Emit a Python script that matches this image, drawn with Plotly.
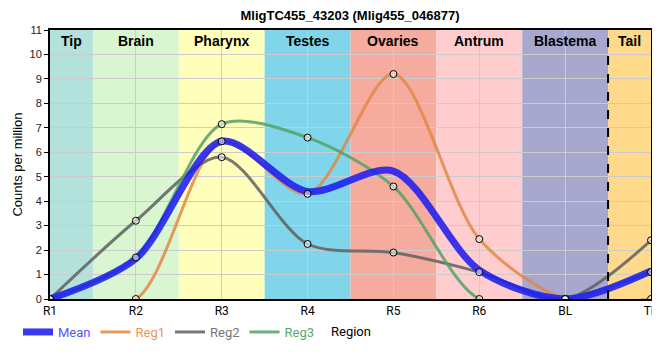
import plotly.graph_objects as go

categories = ["R1", "R2", "R3", "R4", "R5", "R6", "BL", "TP"]
regions = ["Tip", "Brain", "Pharynx", "Testes", "Ovaries", "Antrum", "Blastema", "Tail"]
region_colors = ["#b3e2dd", "#d9f6d0", "#ffffbb", "#80d5ea", "#f5ab9d", "#ffcdcd", "#a8a8cf", "#ffd98c"]

mean_vals = [0, 1.65, 6.45, 4.40, 5.23, 1.18, 0, 1.15]
reg1_vals = [0, 0, 6.45, 4.30, 9.20, 2.45, 0, 0]
reg2_vals = [0, 3.20, 5.80, 2.25, 1.90, 1.10, 0, 2.40]
reg3_vals = [0, 1.70, 7.15, 6.60, 4.60, 0, 0, 1.10]

title = "MligTC455_43203 (Mlig455_046877)"
x_title = "Region"
y_title = "Counts per million"

series = [
    ("Reg1", reg1_vals, "rgba(226,135,70,0.85)", "#e8955a"),
    ("Reg2", reg2_vals, "rgba(95,95,95,0.85)", "#777777"),
    ("Reg3", reg3_vals, "rgba(85,160,100,0.85)", "#5aa873"),
]

SMOOTH = 0.85
W, H = 660, 344  # page body adds an 8px margin; figure origin is at (8, 8) on screen

fig = go.Figure()

for name, vals, col, tcol in series:
    fig.add_trace(go.Scatter(
        x=categories, y=vals, mode="lines",
        line=dict(color=col, width=3, shape="spline", smoothing=SMOOTH),
        name=f'<span style="color:{tcol}">{name}</span>',
        legendrank=2, hoverinfo="skip",
    ))

fig.add_trace(go.Scatter(
    x=categories, y=mean_vals, mode="lines",
    line=dict(color="rgba(30,30,240,0.88)", width=7, shape="spline", smoothing=SMOOTH),
    name='<span style="color:#5555ff">Mean</span>', legendrank=1,
))

for name, vals, col, tcol in series:
    fig.add_trace(go.Scatter(
        x=categories, y=vals, mode="markers", showlegend=False,
        marker=dict(size=7, color="rgba(255,255,255,0.55)",
                    line=dict(color="black", width=1)),
    ))

shapes = []
n = len(categories)
for i, (reg, colr) in enumerate(zip(regions, region_colors)):
    x0 = max(i - 0.5, 0)
    x1 = min(i + 0.5, n - 1)
    shapes.append(dict(type="rect", xref="x", yref="paper", x0=x0, x1=x1, y0=0, y1=1,
                       fillcolor=colr, line=dict(width=0), layer="below"))
    fig.add_annotation(x=(x0 + x1) / 2, y=1, xref="x", yref="paper", yanchor="top",
                       yshift=-1, text=f"<b>{reg}</b>", showarrow=False,
                       font=dict(family="Liberation Sans, Arial", size=14, color="black"))
shapes.append(dict(type="line", xref="x", yref="paper", x0=n - 1.5, x1=n - 1.5, y0=0, y1=1,
                   line=dict(color="black", width=2, dash="dash"), layer="above"))

# x-axis title, placed on the legend row below the tick labels
fig.add_annotation(x=0.5, y=-(323 - 291) / 269, xref="paper", yref="paper",
                   xanchor="center", yanchor="middle", text=x_title, showarrow=False,
                   font=dict(family="Roboto", size=13, color="black"))

fig.update_layout(
    width=W, height=H,
    margin=dict(l=42, r=W - 643, t=22, b=H - 291, autoexpand=False),
    paper_bgcolor="white", plot_bgcolor="white",
    shapes=shapes,
    title=dict(text=f"<b>{title}</b>", x=(350 - 8) / W, xanchor="center", y=1 - 3 / H, yanchor="top",
               xref="container", yref="container", pad=dict(t=0, b=0),
               font=dict(family="Liberation Sans, Arial", size=13, color="black")),
    legend=dict(orientation="h", xref="container", yref="container",
                x=10 / W, xanchor="left", y=1 - 309 / H, yanchor="top",
                font=dict(family="Roboto", size=13), bgcolor="rgba(0,0,0,0)",
                itemwidth=30, tracegroupgap=0),
    showlegend=True,
)

fig.update_xaxes(
    type="category", range=[0, n - 1], showgrid=True, gridcolor="#cccccc",
    showline=True, linecolor="black", linewidth=2, mirror=True,
    ticks="", automargin=False, ticklabeloverflow="allow",
    tickfont=dict(family="Roboto", size=12, color="black"),
    zeroline=False,
)
fig.update_yaxes(
    range=[0, 11], dtick=1, showgrid=True, gridcolor="#cccccc",
    showline=True, linecolor="black", linewidth=2, mirror=True,
    ticks="outside", ticklen=4, tickcolor="black", automargin=True,
    tickfont=dict(family="Liberation Sans, Arial", size=11, color="#222222"),
    title=dict(text=y_title, font=dict(family="Liberation Sans, Arial", size=13, color="black"), standoff=4),
    zeroline=False,
)

fig.write_html("out.html")
